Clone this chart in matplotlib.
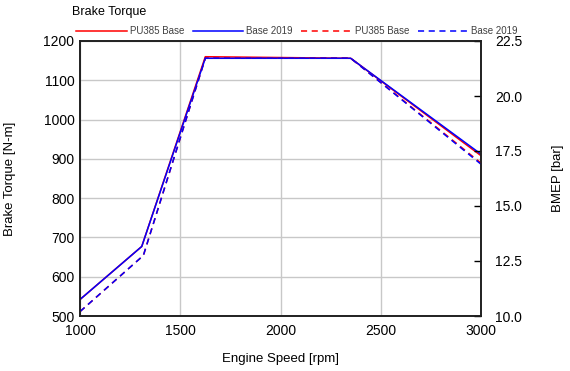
import matplotlib.pyplot as plt
from matplotlib.lines import Line2D

# engine speed points [rpm]
speed_solid = [1000, 1308, 1625, 2350, 3000]
torque_pu385 = [542, 677, 1160, 1156, 908]
torque_2019 = [542, 677, 1156, 1156, 912]

speed_dash = [1000, 1316, 1625, 2350, 3000]
bmep_pu385 = [10.2, 12.75, 21.72, 21.72, 16.95]
bmep_2019 = [10.2, 12.75, 21.72, 21.72, 16.9]

x_ticks = [1000, 1500, 2000, 2500, 3000]
y_ticks = [500, 600, 700, 800, 900, 1000, 1100, 1200]
y2_ticks = [10.0, 12.5, 15.0, 17.5, 20.0, 22.5]
series_names = ["PU385 Base", "Base 2019"]

plt.rcParams["font.family"] = ["Liberation Sans", "DejaVu Sans"]

fig = plt.figure(figsize=(5.7, 3.71), dpi=100)
ax = fig.add_axes([80 / 570, 1 - 316 / 371, 401 / 570, 275 / 371])
ax2 = ax.twinx()

ax.plot(speed_solid, torque_pu385, color="#ff0000", lw=1.1)
ax.plot(speed_solid, torque_2019, color="#0000ff", lw=1.1)
ax2.plot(speed_dash, bmep_pu385, color="#ff0000", lw=1.1, ls=(0, (4, 3)))
ax2.plot(speed_dash, bmep_2019, color="#0000ff", lw=1.1, ls=(0, (4, 3)))

ax.set_xlim(1000, 3000)
ax.set_ylim(500, 1200)
ax2.set_ylim(10, 22.5)
ax.set_xticks(x_ticks)
ax.set_yticks(y_ticks)
ax2.set_yticks(y2_ticks)
ax2.set_yticklabels([f"{v:.1f}" for v in y2_ticks])

ax.grid(True, color="#c8c8c8", lw=1)
ax.set_axisbelow(True)
ax.tick_params(axis="x", length=0, labelsize=10, pad=6)
ax.tick_params(axis="y", length=0, labelsize=10, pad=4)
ax2.tick_params(axis="y", direction="in", length=5, width=1, labelsize=10, pad=10)
for a in (ax, ax2):
    for s in a.spines.values():
        s.set_linewidth(1.2)
        s.set_color("#202020")

ax.set_xlabel("Engine Speed [rpm]", fontsize=9.5)
ax.set_ylabel("Brake Torque [N-m]", fontsize=9.5)
ax2.set_ylabel("BMEP [bar]", fontsize=9.5)
ax.xaxis.set_label_coords(0.5, -0.1345)
ax.yaxis.set_label_coords(-0.16, 0.5)
ax2.yaxis.set_label_coords(1.177, 0.5)

fig.text(72 / 570, 1 - 12 / 371, "Brake Torque", fontsize=9, va="center", ha="left")

handles = [
    Line2D([], [], color="#ff0000", lw=1.1),
    Line2D([], [], color="#0000ff", lw=1.1),
    Line2D([], [], color="#ff0000", lw=1.1, ls=(0, (4, 3))),
    Line2D([], [], color="#0000ff", lw=1.1, ls=(0, (4, 3))),
]
labels = series_names + series_names
fig.legend(handles, labels, loc="center", bbox_to_anchor=(297 / 570, 1 - 31 / 371),
           ncol=4, frameon=False, fontsize=7, handlelength=5.2, handletextpad=0.3,
           columnspacing=0.9, labelcolor="#404040")

fig.savefig("out.png", dpi=100)
